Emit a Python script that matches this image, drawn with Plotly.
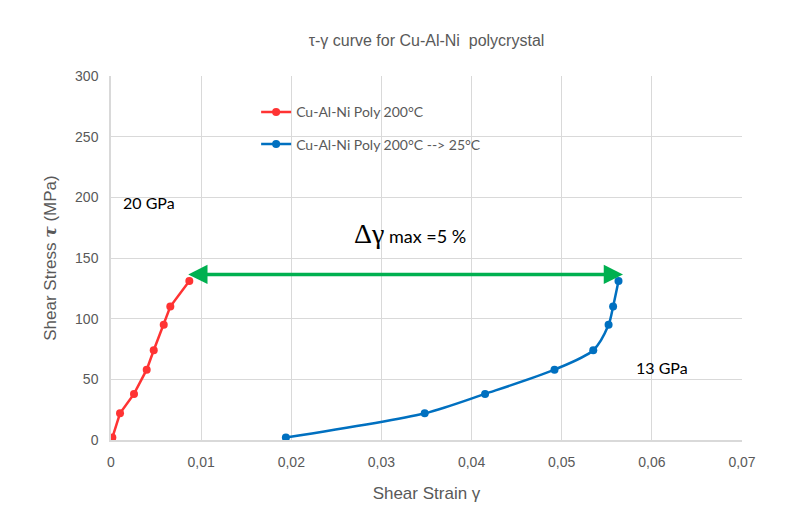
import plotly.graph_objects as go

# Data
red_name = "Cu-Al-Ni Poly 200°C"
red_x = [0.00015, 0.0010, 0.00255, 0.00396, 0.00474, 0.00585, 0.00658, 0.00869]
red_y = [2, 22, 38, 58, 74, 95, 110, 131]

blue_name = "Cu-Al-Ni Poly 200°C --> 25°C"
blue_x = [0.0194, 0.0348, 0.0415, 0.0492, 0.0535, 0.0552, 0.0557, 0.0563]
blue_y = [2, 22, 38, 58, 74, 95, 110, 131]

x_ticks = [0, 0.01, 0.02, 0.03, 0.04, 0.05, 0.06, 0.07]
x_ticklabels = ["0", "0,01", "0,02", "0,03", "0,04", "0,05", "0,06", "0,07"]
y_ticks = [0, 50, 100, 150, 200, 250, 300]

arrow_y = 136.5
arrow_x_left = 0.0084
arrow_x_right = 0.0568

RED = "#ff3333"
BLUE = "#0070c0"
GREEN = "#00b050"
GRID = "#d9d9d9"
TXT = "#595959"

fig = go.Figure()
fig.add_trace(go.Scatter(
    x=red_x, y=red_y, name=red_name, mode="lines+markers",
    line=dict(color=RED, width=2.5), marker=dict(color=RED, size=8),
    legend="legend", showlegend=True))
fig.add_trace(go.Scatter(
    x=blue_x, y=blue_y, name=blue_name, mode="lines+markers",
    line=dict(color=BLUE, width=2.5, shape="spline", smoothing=0.8),
    marker=dict(color=BLUE, size=8),
    legend="legend2", showlegend=True))

legend_common = dict(font=dict(family="Lato, Liberation Sans", size=14, color=TXT),
                     bgcolor="rgba(0,0,0,0)", xanchor="left", yanchor="middle",
                     xref="paper", yref="paper")

fig.update_layout(
    width=790, height=510,
    showlegend=True,
    margin=dict(l=103, r=56, t=68, b=78),
    paper_bgcolor="white", plot_bgcolor="white",
    title=dict(text="τ-γ curve for Cu-Al-Ni  polycrystal", x=0.5, xref="paper",
               y=0.937, yref="container", xanchor="center", yanchor="middle",
               font=dict(family="Liberation Sans, Arial", size=16, color=TXT)),
    legend=dict(x=0.23, y=0.9, **legend_common),
    legend2=dict(x=0.23, y=0.812, **legend_common),
    xaxis=dict(range=[0, 0.07], tickvals=x_ticks, ticktext=x_ticklabels,
               showgrid=True, gridcolor=GRID, gridwidth=1,
               showline=True, linecolor=GRID, linewidth=1.5,
               zeroline=False, ticks="", ticklabelstandoff=8,
               tickfont=dict(family="Liberation Sans, Arial", size=14, color=TXT),
               title=dict(text="Shear Strain γ", standoff=19,
                          font=dict(family="Liberation Sans, Arial", size=17, color=TXT))),
    yaxis=dict(range=[0, 300], tickvals=y_ticks,
               showgrid=True, gridcolor=GRID, gridwidth=1,
               showline=True, linecolor=GRID, linewidth=1.5,
               zeroline=False, ticks="", ticklabelstandoff=8,
               tickfont=dict(family="Liberation Sans, Arial", size=14, color=TXT),
               title=dict(text="Shear Stress <b><i style='font-family:DejaVu Serif'>τ</i></b> (MPa)", standoff=14,
                          font=dict(family="Liberation Sans, Arial", size=17, color=TXT))),
)

fig.add_annotation(x=arrow_x_right, y=arrow_y, ax=arrow_x_left, ay=arrow_y,
                   xref="x", yref="y", axref="x", ayref="y", text="",
                   showarrow=True, arrowhead=2, arrowside="end+start",
                   arrowsize=1.1, arrowwidth=3.5, arrowcolor=GREEN)

fig.add_annotation(x=0.0042, y=196, xref="x", yref="y", showarrow=False,
                   text="20 GPa", font=dict(family="Lato, Liberation Sans", size=16, color="#000000"))
fig.add_annotation(x=0.0611, y=60, xref="x", yref="y", showarrow=False,
                   text="13 GPa", font=dict(family="Lato, Liberation Sans", size=16, color="#000000"))
fig.add_annotation(x=0.0332, y=170, xref="x", yref="y", showarrow=False,
                   text="<span style='font-family:Liberation Serif, Times New Roman; font-size:28px'>Δγ</span>"
                        "<span style='font-family:Lato, Liberation Sans; font-size:18px'> max =5 %</span>",
                   font=dict(color="#000000"))

fig.write_html("out.html")
